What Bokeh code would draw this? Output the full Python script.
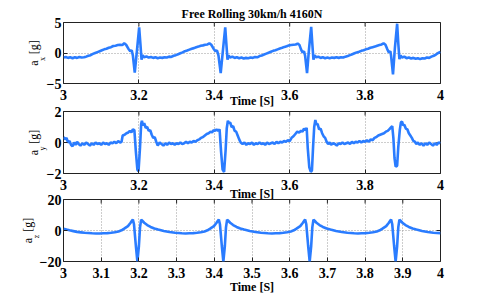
import math
from bokeh.plotting import figure
from bokeh.layouts import column
from bokeh.models import Range1d, FixedTicker, LinearAxis, Title, Grid
from bokeh.embed import file_html
from bokeh.resources import INLINE

# ---------------- data ----------------
title_text = "Free Rolling 30km/h 4160N"
x_label = "Time [S]"

t_ax = [3.000, 3.006, 3.012, 3.018, 3.024, 3.030, 3.036, 3.042, 3.048, 3.054,
        3.060, 3.066, 3.072, 3.078, 3.084, 3.090, 3.096, 3.102, 3.108, 3.114,
        3.120, 3.126, 3.132, 3.138, 3.144, 3.150, 3.156, 3.161, 3.166, 3.172,
        3.177, 3.181, 3.184, 3.189, 3.195, 3.2007, 3.204, 3.207, 3.210, 3.214,
        3.220, 3.226, 3.232, 3.238, 3.244, 3.250, 3.256, 3.262, 3.268, 3.274,
        3.280, 3.286, 3.292, 3.298, 3.304, 3.310, 3.316, 3.322, 3.328, 3.334,
        3.340, 3.346, 3.352, 3.358, 3.364, 3.370, 3.376, 3.382, 3.387, 3.392,
        3.398, 3.403, 3.407, 3.411, 3.417, 3.423, 3.429, 3.432, 3.435, 3.438,
        3.442, 3.448, 3.454, 3.460, 3.466, 3.472, 3.478, 3.484, 3.490, 3.496,
        3.502, 3.508, 3.514, 3.520, 3.526, 3.532, 3.538, 3.544, 3.550, 3.556,
        3.562, 3.568, 3.574, 3.580, 3.586, 3.592, 3.598, 3.604, 3.610, 3.616,
        3.621, 3.626, 3.630, 3.634, 3.638, 3.641, 3.646, 3.651, 3.657, 3.660,
        3.663, 3.666, 3.670, 3.676, 3.682, 3.688, 3.694, 3.700, 3.706, 3.712,
        3.718, 3.724, 3.730, 3.736, 3.742, 3.748, 3.754, 3.760, 3.766, 3.772,
        3.778, 3.784, 3.790, 3.796, 3.802, 3.808, 3.814, 3.820, 3.826, 3.832,
        3.838, 3.844, 3.849, 3.854, 3.859, 3.863, 3.867, 3.869, 3.874, 3.879,
        3.885, 3.888, 3.891, 3.894, 3.898, 3.904, 3.910, 3.916, 3.922, 3.928,
        3.934, 3.940, 3.946, 3.952, 3.958, 3.964, 3.970, 3.976, 3.982, 3.988,
        3.994, 4.000]
a_x = [-0.75, -0.65, -0.8, -0.7, -0.85, -0.7, -0.8, -0.65, -0.75, -0.7,
       -0.6, -0.45, -0.35, -0.15, 0.0, 0.15, 0.3, 0.45, 0.6, 0.7,
       0.85, 0.95, 1.15, 1.2, 1.3, 1.35, 1.3, 1.6, 1.35, 0.7,
       0.3, 0.45, -0.4, -3.2, 0.5, 4.2, 1.5, -1.1, -0.4, -0.7,
       -0.55, -0.75, -0.65, -0.8, -0.7, -0.85, -0.75, -0.8, -0.7, -0.75,
       -0.6, -0.65, -0.45, -0.35, -0.2, -0.05, 0.1, 0.3, 0.4, 0.55,
       0.7, 0.8, 0.95, 1.05, 1.2, 1.25, 1.35, 1.4, 1.6, 1.35,
       0.7, 0.3, 0.45, -0.4, -3.3, 0.5, 4.2, 1.5, -1.1, -0.4,
       -0.75, -0.6, -0.8, -0.7, -0.85, -0.75, -0.9, -0.8, -0.85, -0.75,
       -0.8, -0.65, -0.7, -0.5, -0.4, -0.25, -0.1, 0.05, 0.2, 0.35,
       0.45, 0.6, 0.75, 0.85, 1.0, 1.1, 1.25, 1.3, 1.35, 1.4,
       1.55, 1.3, 0.6, 0.1, 0.3, -0.5, -3.3, 0.5, 4.3, 1.5,
       -1.1, -0.4, -0.7, -0.6, -0.8, -0.7, -0.85, -0.75, -0.85, -0.75,
       -0.8, -0.7, -0.8, -0.7, -0.75, -0.6, -0.5, -0.35, -0.2, -0.05,
       0.1, 0.2, 0.35, 0.45, 0.6, 0.7, 0.85, 0.95, 1.05, 1.2,
       1.3, 1.4, 1.6, 1.35, 0.6, 0.1, 0.3, -0.5, -3.5, 0.8,
       4.8, 1.6, -1.0, -0.4, -0.75, -0.6, -0.85, -0.75, -0.9, -0.8,
       -0.95, -0.85, -1.0, -0.85, -0.9, -0.75, -0.8, -0.6, -0.45, -0.25,
       0.0, 0.2]

t_ay = [3.000, 3.004, 3.008, 3.012, 3.016, 3.020, 3.024, 3.028, 3.032, 3.036,
        3.040, 3.045, 3.050, 3.055, 3.060, 3.065, 3.070, 3.075, 3.080, 3.085,
        3.090, 3.095, 3.100, 3.105, 3.110, 3.115, 3.120, 3.125, 3.130, 3.135,
        3.140, 3.145, 3.150, 3.154, 3.157, 3.162, 3.167, 3.172, 3.176, 3.180,
        3.184, 3.188, 3.192, 3.196, 3.199, 3.203, 3.206, 3.208, 3.211, 3.214,
        3.218, 3.222, 3.226, 3.230, 3.234, 3.238, 3.242, 3.246, 3.250, 3.255,
        3.260, 3.265, 3.270, 3.275, 3.280, 3.285, 3.290, 3.295, 3.300, 3.305,
        3.310, 3.315, 3.320, 3.325, 3.330, 3.335, 3.340, 3.345, 3.350, 3.355,
        3.360, 3.365, 3.370, 3.375, 3.380, 3.385, 3.390, 3.394, 3.398, 3.402,
        3.406, 3.410, 3.414, 3.418, 3.422, 3.426, 3.430, 3.433, 3.436, 3.439,
        3.442, 3.446, 3.450, 3.454, 3.458, 3.462, 3.466, 3.470, 3.475, 3.480,
        3.485, 3.490, 3.495, 3.500, 3.505, 3.510, 3.515, 3.520, 3.525, 3.530,
        3.535, 3.540, 3.545, 3.550, 3.555, 3.560, 3.565, 3.570, 3.575, 3.580,
        3.585, 3.590, 3.595, 3.600, 3.605, 3.610, 3.615, 3.620, 3.625, 3.630,
        3.634, 3.638, 3.642, 3.645, 3.648, 3.652, 3.656, 3.659, 3.662, 3.665,
        3.668, 3.671, 3.674, 3.678, 3.682, 3.686, 3.690, 3.694, 3.698, 3.702,
        3.706, 3.710, 3.715, 3.720, 3.725, 3.730, 3.735, 3.740, 3.745, 3.750,
        3.755, 3.760, 3.765, 3.770, 3.775, 3.780, 3.785, 3.790, 3.795, 3.800,
        3.805, 3.810, 3.815, 3.820, 3.825, 3.830, 3.835, 3.840, 3.845, 3.850,
        3.855, 3.860, 3.864, 3.868, 3.872, 3.875, 3.878, 3.881, 3.885, 3.888,
        3.892, 3.895, 3.898, 3.901, 3.904, 3.908, 3.912, 3.916, 3.920, 3.924,
        3.928, 3.932, 3.936, 3.940, 3.945, 3.950, 3.955, 3.960, 3.965, 3.970,
        3.975, 3.980, 3.985, 3.990, 3.995, 4.000]
a_y = [0.35, 0.2, 0.3, 0.0, 0.1, -0.15, -0.25, 0.0, -0.15, 0.05,
       -0.1, -0.2, -0.05, -0.15, 0.0, -0.1, -0.2, -0.05, -0.15, 0.0,
       -0.1, -0.05, -0.15, 0.0, -0.1, -0.05, -0.15, 0.0, -0.05, 0.05,
       -0.05, 0.1, 0.0, 0.05, 0.45, 0.5, 0.6, 0.65, 0.75, 0.65,
       0.85, 0.8, -0.6, -1.75, -1.85, -0.3, 1.2, 1.4, 1.1, 1.25,
       0.95, 1.0, 0.75, 0.8, 0.5, 0.3, 0.35, 0.05, -0.2, 0.0,
       -0.1, -0.2, -0.05, -0.15, 0.0, -0.1, -0.05, -0.15, -0.05, -0.1,
       0.0, -0.1, -0.05, 0.05, -0.05, 0.05, 0.0, 0.1, 0.05, 0.15,
       0.2, 0.3, 0.35, 0.45, 0.55, 0.6, 0.7, 0.65, 0.8, 0.75,
       0.85, 0.75, 0.85, -0.6, -1.75, -1.9, -0.5, 0.9, 1.4, 1.25,
       1.3, 1.0, 1.05, 0.75, 0.7, 0.45, 0.2, 0.0, -0.1, 0.0,
       -0.15, -0.05, -0.1, 0.0, -0.15, -0.05, -0.1, 0.0, -0.1, -0.05,
       -0.15, 0.0, -0.1, -0.05, 0.0, -0.1, 0.05, -0.05, 0.05, 0.0,
       0.1, 0.05, 0.15, 0.1, 0.3, 0.4, 0.55, 0.7, 0.65, 0.75,
       0.7, 0.9, 0.8, 0.95, -0.4, -1.6, -1.9, -1.8, -0.3, 1.0,
       1.45, 1.15, 1.2, 0.85, 0.9, 0.6, 0.4, 0.3, 0.05, -0.1,
       0.0, -0.15, -0.05, -0.1, -0.2, -0.05, -0.1, 0.0, -0.1, -0.05,
       0.0, -0.1, 0.05, -0.05, 0.05, 0.0, 0.1, 0.0, 0.1, 0.05,
       0.15, 0.05, 0.2, 0.15, 0.3, 0.35, 0.45, 0.5, 0.55, 0.6,
       0.7, 0.75, 0.85, 0.95, 1.05, 0.3, -1.0, -1.55, -1.5, -0.3,
       0.8, 1.3, 1.35, 1.1, 1.15, 0.9, 0.85, 0.6, 0.45, 0.3,
       0.1, 0.05, -0.1, 0.0, -0.15, -0.05, -0.2, -0.05, -0.15, 0.0,
       -0.1, -0.2, -0.05, -0.15, 0.0, -0.05]

t_az = [3.000, 3.008, 3.016, 3.026, 3.036, 3.046, 3.056, 3.066, 3.076, 3.086,
        3.096, 3.106, 3.116, 3.126, 3.136, 3.146, 3.154, 3.161, 3.171, 3.178,
        3.182, 3.184, 3.187, 3.192, 3.196, 3.200, 3.203, 3.206, 3.209, 3.214,
        3.222, 3.231, 3.241, 3.251, 3.266, 3.281, 3.296, 3.314, 3.324, 3.334,
        3.344, 3.354, 3.364, 3.374, 3.382, 3.389, 3.399, 3.406, 3.410, 3.412,
        3.415, 3.420, 3.424, 3.428, 3.431, 3.434, 3.437, 3.442, 3.450, 3.459,
        3.469, 3.479, 3.494, 3.509, 3.524, 3.542, 3.553, 3.563, 3.573, 3.583,
        3.593, 3.603, 3.611, 3.618, 3.628, 3.635, 3.639, 3.641, 3.644, 3.649,
        3.653, 3.657, 3.660, 3.663, 3.666, 3.671, 3.679, 3.688, 3.698, 3.708,
        3.723, 3.738, 3.753, 3.771, 3.781, 3.791, 3.801, 3.811, 3.821, 3.831,
        3.839, 3.846, 3.856, 3.863, 3.867, 3.869, 3.872, 3.877, 3.881, 3.885,
        3.888, 3.891, 3.894, 3.899, 3.907, 3.916, 3.926, 3.936, 3.951, 3.966,
        3.981, 4.000]
a_z = [1.2, 0.6, 0.1, -0.4, -0.9, -1.2, -1.5, -1.6, -1.8, -1.9,
       -1.95, -1.8, -1.7, -1.5, -1.1, -0.6, 0.1, 1.2, 2.8, 5.0,
       6.5, 7.0, 4.0, -10.0, -20.0, -10.0, 2.0, 7.0, 6.3, 5.0,
       3.5, 2.3, 1.3, 0.6, -0.3, -1.0, -1.5, -1.8, -1.9, -1.8,
       -1.7, -1.5, -1.1, -0.6, 0.1, 1.2, 2.8, 5.0, 6.5, 7.0,
       4.0, -10.0, -20.0, -10.0, 2.0, 7.0, 6.3, 5.0, 3.5, 2.3,
       1.3, 0.6, -0.3, -1.0, -1.5, -1.8, -1.9, -1.8, -1.7, -1.5,
       -1.1, -0.6, 0.1, 1.2, 2.8, 5.0, 6.5, 7.0, 4.0, -10.0,
       -20.0, -10.0, 2.0, 7.0, 6.3, 5.0, 3.5, 2.3, 1.3, 0.6,
       -0.3, -1.0, -1.5, -1.8, -1.9, -1.8, -1.7, -1.5, -1.1, -0.6,
       0.1, 1.2, 2.8, 5.0, 6.5, 7.0, 4.0, -10.0, -20.0, -10.0,
       2.0, 7.0, 6.3, 5.0, 3.5, 2.3, 1.3, 0.6, -0.3, -1.0,
       -1.5, -1.7]

x_ticks_coarse = [3.0, 3.2, 3.4, 3.6, 3.8, 4.0]
x_labels_coarse = ["3", "3.2", "3.4", "3.6", "3.8", "4"]
x_ticks_fine = [3.0, 3.1, 3.2, 3.3, 3.4, 3.5, 3.6, 3.7, 3.8, 3.9, 4.0]
x_labels_fine = ["3", "3.1", "3.2", "3.3", "3.4", "3.5", "3.6", "3.7", "3.8", "3.9", "4"]

y_ticks_x = [-5, 0, 5]
y_labels_x = ["\u22125", "0", "5"]
y_ticks_y = [-2, 0, 2]
y_labels_y = ["\u22122", "0", "2"]
y_ticks_z = [-20, 0, 20]
y_labels_z = ["\u221220", "0", "20"]

ylab_main = "a\u00a0\u00a0[g]"        # the subscript sits in the gap
ylab_sub = ["x", "y", "z"]

# ---------------- styling ----------------
FONT = "Liberation Serif"
LINE_COLOR = "#2a7cff"
EDGE = "#222222"
W = 485


def panel(t, v, ylim, yt, yl, xt, xl, top, frame_h, bottom,
          label_standoff, sub, sub_standoff, main_standoff, title=None):
    height = top + frame_h + bottom
    p = figure(width=W, height=height, output_backend="svg",
               toolbar_location=None, x_range=Range1d(3.0, 4.0),
               y_range=Range1d(*ylim), x_axis_type=None, y_axis_type=None,
               min_border_left=63, min_border_right=45,
               min_border_top=top, min_border_bottom=bottom)
    p.background_fill_color = "white"
    p.border_fill_color = None
    p.outline_line_color = EDGE
    p.outline_line_width = 1

    xtick = FixedTicker(ticks=xt)
    ytick = FixedTicker(ticks=yt)

    def style(ax):
        ax.axis_line_color = None
        ax.major_tick_in = 4
        ax.major_tick_out = 0
        ax.minor_tick_line_color = None
        ax.major_tick_line_color = EDGE
        ax.major_label_text_font = FONT
        ax.major_label_text_font_style = "bold"
        ax.major_label_text_color = "black"
        ax.major_label_text_font_size = "14px"

    def label_only(text, size, standoff):
        ax = LinearAxis(ticker=FixedTicker(ticks=[]))
        ax.axis_line_color = None
        ax.major_tick_line_color = None
        ax.minor_tick_line_color = None
        ax.major_tick_in = 0
        ax.major_tick_out = 0
        ax.major_label_standoff = 0
        ax.axis_label = text
        ax.axis_label_text_font = FONT
        ax.axis_label_text_font_style = "normal"
        ax.axis_label_text_font_size = size
        ax.axis_label_text_color = "black"
        ax.axis_label_standoff = standoff
        return ax

    xb = LinearAxis(ticker=xtick)
    xb.major_label_overrides = {float(a): b for a, b in zip(xt, xl)}
    style(xb)
    xb.major_label_standoff = 6
    xb.axis_label = x_label
    xb.axis_label_text_font = FONT
    xb.axis_label_text_font_style = "bold"
    xb.axis_label_text_font_size = "12px"
    xb.axis_label_text_color = "black"
    xb.axis_label_standoff = label_standoff
    p.add_layout(xb, "below")

    yl_ax = LinearAxis(ticker=ytick)
    yl_ax.major_label_overrides = {a: b for a, b in zip(yt, yl)}
    style(yl_ax)
    yl_ax.major_label_standoff = 2
    p.add_layout(yl_ax, "left")
    # y label a_sub [g]: subscript and main text as two rotated axis labels
    p.add_layout(label_only(sub + "\u00a0" * 6, "8px", sub_standoff), "left")
    p.add_layout(label_only(ylab_main, "12px", main_standoff), "left")

    p.center = []
    for dim, tk in ((0, xtick), (1, ytick)):
        p.add_layout(Grid(dimension=dim, ticker=tk, grid_line_color="#9a9a9a",
                          grid_line_dash="1 2", grid_line_width=1), "center")

    # inward tick marks on the top and right edges (half of each dash is clipped)
    p.scatter(x=xt, y=[ylim[1]] * len(xt), marker="dash", size=8, angle=math.pi / 2,
              line_color=EDGE, line_width=1)
    p.scatter(x=[4.0] * len(yt), y=yt, marker="dash", size=8,
              line_color=EDGE, line_width=1)

    p.line(x=t, y=v, line_width=2.6, line_color=LINE_COLOR)

    if title:
        p.title = Title(text=title, align="center", text_font=FONT,
                        text_font_style="bold", text_font_size="12px",
                        text_color="black", standoff=4)
    return p


p1 = panel(t_ax, a_x, (-5, 5), y_ticks_x, y_labels_x, x_ticks_coarse,
           x_labels_coarse, 22, 62, 26, -9, ylab_sub[0], -3, -6, title_text)
p2 = panel(t_ay, a_y, (-2, 2), y_ticks_y, y_labels_y, x_ticks_coarse,
           x_labels_coarse, 6, 62, 32, -6, ylab_sub[1], -3, -6)
p3 = panel(t_az, a_z, (-20, 20), y_ticks_z, y_labels_z, x_ticks_fine,
           x_labels_fine, 6, 63, 34, -1, ylab_sub[2], -4, -6)
p2.margin = (-5, 0, 0, 0)
p3.margin = (-12, 0, 0, 0)

layout = column(p1, p2, p3, spacing=0)
open("out.html", "w").write(file_html(layout, INLINE))
